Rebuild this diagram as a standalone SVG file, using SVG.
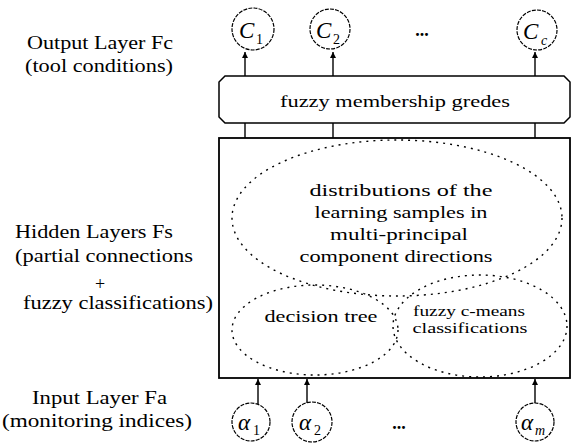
<svg xmlns="http://www.w3.org/2000/svg" width="572" height="445" viewBox="0 0 572 445">
  <defs>
    <marker id="arrow" viewBox="0 0 10 10" refX="10" refY="5" markerWidth="8" markerHeight="6" markerUnits="userSpaceOnUse" orient="auto">
      <path d="M0,0 L10,5 L0,10 Z" fill="#000"/>
    </marker>
    <style>
      text { font-family: "Liberation Serif", "Times New Roman", serif; fill: #000; }
      .lbl { font-size: 18px; }
      .in { font-size: 17px; text-anchor: middle; }
      .small { font-size: 14.5px; text-anchor: middle; }
      .node { fill: #fff; stroke: #000; stroke-width: 1.2; stroke-dasharray: 4 1.2; }
      .sym { font-size: 23px; font-style: italic; }
      .sub { font-size: 14px; }
      .zone { fill: none; stroke: #000; stroke-width: 1.4; stroke-dasharray: 2 5; }
      .wire { stroke: #000; stroke-width: 1.4; fill: none; }
      .dots { font-size: 18px; font-weight: bold; text-anchor: middle; }
    </style>
  </defs>

  <rect width="572" height="445" fill="#fff"/>

  <!-- layer captions -->
  <g id="captions">
    <text class="lbl" x="27" y="49" textLength="146" lengthAdjust="spacingAndGlyphs">Output Layer Fc</text>
    <text class="lbl" x="25" y="72" textLength="148" lengthAdjust="spacingAndGlyphs">(tool conditions)</text>
    <text class="lbl" x="15" y="238" textLength="158" lengthAdjust="spacingAndGlyphs">Hidden Layers Fs</text>
    <text class="lbl" x="15" y="262" textLength="178" lengthAdjust="spacingAndGlyphs">(partial connections</text>
    <text class="lbl" x="100" y="290" text-anchor="middle">+</text>
    <text class="lbl" x="23" y="309" textLength="190" lengthAdjust="spacingAndGlyphs">fuzzy classifications)</text>
    <text class="lbl" x="32" y="404" textLength="135" lengthAdjust="spacingAndGlyphs">Input Layer Fa</text>
    <text class="lbl" x="2" y="427" textLength="190" lengthAdjust="spacingAndGlyphs">(monitoring indices)</text>
  </g>

  <!-- connectors -->
  <g id="connectors">
    <line class="wire" x1="245" y1="76" x2="245" y2="52" marker-end="url(#arrow)"/>
    <line class="wire" x1="333" y1="76" x2="333" y2="52" marker-end="url(#arrow)"/>
    <line class="wire" x1="535" y1="76" x2="535" y2="52" marker-end="url(#arrow)"/>
    <line class="wire" x1="245" y1="123" x2="245" y2="138"/>
    <line class="wire" x1="333" y1="123" x2="333" y2="138" stroke-width="1"/>
    <line class="wire" x1="535" y1="123" x2="535" y2="138"/>
    <line class="wire" x1="258" y1="404" x2="258" y2="379" marker-end="url(#arrow)"/>
    <line class="wire" x1="307" y1="403" x2="307" y2="379" marker-end="url(#arrow)"/>
    <line class="wire" x1="535" y1="403" x2="535" y2="379" marker-end="url(#arrow)"/>
  </g>

  <!-- output nodes -->
  <g id="c1">
    <circle class="node" cx="253" cy="29" r="21"/>
    <text class="sym" x="239" y="38">C</text><text class="sub" x="256" y="44">1</text>
  </g>
  <g id="c2">
    <circle class="node" cx="330" cy="29" r="20"/>
    <text class="sym" x="316" y="38">C</text><text class="sub" x="333" y="44">2</text>
  </g>
  <g id="out-dots"><text class="dots" x="422" y="36">...</text></g>
  <g id="cc">
    <circle class="node" cx="537" cy="30" r="20"/>
    <text class="sym" x="523" y="39">C</text><text class="sub" x="541" y="45" font-style="italic">c</text>
  </g>

  <!-- membership grades layer -->
  <g id="membership">
    <path d="M225,76 H564 L570,82 V117 L564,123 H225 L219,117 V82 Z" fill="#fff" stroke="#000" stroke-width="1.5"/>
    <text class="in" x="395" y="107" textLength="230" lengthAdjust="spacingAndGlyphs">fuzzy membership gredes</text>
  </g>

  <!-- hidden layers -->
  <g id="hidden">
    <rect x="219" y="138" width="351" height="240" fill="none" stroke="#000" stroke-width="1.8"/>
  </g>
  <g id="distributions">
    <ellipse class="zone" cx="397" cy="218" rx="165" ry="78"/>
    <text class="in" x="401" y="196" textLength="183" lengthAdjust="spacingAndGlyphs">distributions of the</text>
    <text class="in" x="401" y="218" textLength="173" lengthAdjust="spacingAndGlyphs">learning samples in</text>
    <text class="in" x="399" y="240" textLength="138" lengthAdjust="spacingAndGlyphs">multi-principal</text>
    <text class="in" x="396" y="262" textLength="193" lengthAdjust="spacingAndGlyphs">component directions</text>
  </g>
  <g id="decision-tree">
    <ellipse class="zone" cx="315" cy="330" rx="83" ry="45"/>
    <text class="in" x="321" y="322" textLength="113" lengthAdjust="spacingAndGlyphs">decision tree</text>
  </g>
  <g id="fuzzy-c-means">
    <ellipse class="zone" cx="480" cy="326" rx="87" ry="51"/>
    <text class="small" x="469" y="316" textLength="112" lengthAdjust="spacingAndGlyphs">fuzzy c-means</text>
    <text class="small" x="470" y="333" textLength="115" lengthAdjust="spacingAndGlyphs">classifications</text>
  </g>

  <!-- input nodes -->
  <g id="a1">
    <circle class="node" cx="251" cy="422" r="19"/>
    <text class="sym" x="238" y="430">α</text><text class="sub" x="253" y="435">1</text>
  </g>
  <g id="a2">
    <circle class="node" cx="312" cy="422" r="20"/>
    <text class="sym" x="299" y="430">α</text><text class="sub" x="314" y="435">2</text>
  </g>
  <g id="in-dots"><text class="dots" x="399" y="429">...</text></g>
  <g id="am">
    <circle class="node" cx="535" cy="422" r="19"/>
    <text class="sym" x="521" y="430">α</text><text class="sub" x="535" y="435" font-style="italic">m</text>
  </g>
</svg>
